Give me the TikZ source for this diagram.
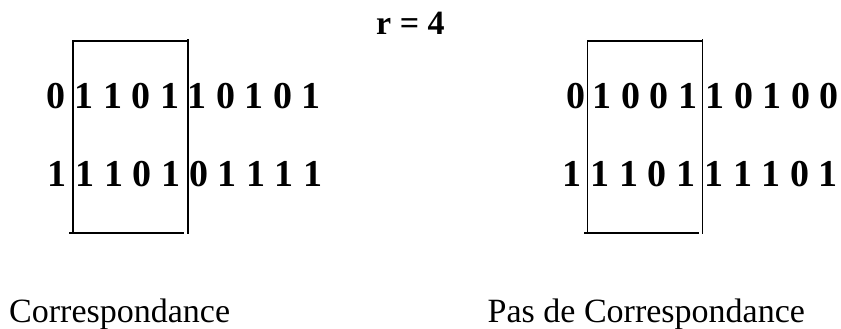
\documentclass[tikz,border=0pt]{standalone}
\usepackage{fontspec}
\setmainfont{Liberation Serif}
\begin{document}
\begin{tikzpicture}[x=1pt,y=1pt,
  bits/.style={anchor=base west,inner sep=0pt,font=\fontsize{38}{40}\selectfont\bfseries},
  title/.style={anchor=base west,inner sep=0pt,font=\fontsize{34}{36}\selectfont\bfseries},
  caption/.style={anchor=base west,inner sep=0pt,font=\fontsize{34}{36}\selectfont},
  frame/.style={line width=1.8pt,line cap=rect}]
\useasboundingbox (0,0) rectangle (841,-329);
\node[title] (r) at (376,-35) {r = 4};
% left group
\node[bits] (l1a) at (46.5,-109) {0};
\node[bits] (l1b) at (74.5,-109) {1 1 0 1};
\node[bits] (l1c) at (187.5,-109) {1 0 1 0 1};
\node[bits] (l2a) at (47.5,-186) {1};
\node[bits] (l2b) at (75.5,-186) {1 1 0 1};
\node[bits] (l2c) at (189,-186) {0 1 1 1 1};
\draw[frame] (73,-41) -- (73,-233);
\draw[frame] (73,-41) -- (186,-41);
\draw[frame] (187.6,-40) -- (187.6,-233);
\draw[frame] (70,-233) -- (183,-233);
% right group
\node[bits] (r1a) at (566,-109) {0};
\node[bits] (r1b) at (592.5,-109) {1 0 0 1};
\node[bits] (r1c) at (705.5,-109) {1 0 1 0 0};
\node[bits] (r2a) at (562.5,-186) {1};
\node[bits] (r2b) at (590.5,-186) {1 1 0 1};
\node[bits] (r2c) at (704.5,-186) {1 1 1 0 1};
\draw[frame] (587.5,-41) -- (587.5,-233);
\draw[frame] (587.5,-41) -- (701.5,-41);
\draw[frame] (702.4,-40) -- (702.4,-233);
\draw[frame] (585,-233) -- (698,-233);
% captions
\node[caption] (c1) at (9,-322) {Correspondance};
\node[caption] (c2) at (487.5,-322) {Pas de Correspondance};
\end{tikzpicture}
\end{document}
